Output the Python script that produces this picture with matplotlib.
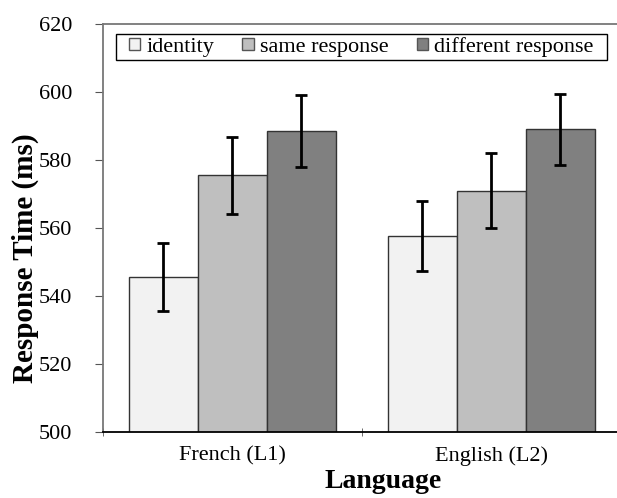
import numpy as np
import matplotlib.pyplot as plt
from matplotlib.patches import Rectangle

plt.rcParams["font.family"] = ["Liberation Serif", "DejaVu Serif"]

# Data
languages = ["French (L1)", "English (L2)"]
conditions = ["identity", "same response", "different response"]
means = {
    "identity": [545.5, 557.6],
    "same response": [575.5, 571.0],
    "different response": [588.6, 589.0],
}
errors = {
    "identity": [10.0, 10.2],
    "same response": [11.3, 11.1],
    "different response": [10.6, 10.4],
}
colors = ["#F2F2F2", "#BFBFBF", "#808080"]

W, H = 617, 498
fig = plt.figure(figsize=(W / 100, H / 100), dpi=100)
ax = fig.add_axes([102.7 / W, 66 / H, 518 / W, 408 / H])

x = np.arange(len(languages))
width = 0.8 / 3
for i, cond in enumerate(conditions):
    ax.bar(x + (i - 1) * width, means[cond], width, color=colors[i],
           edgecolor="#333333", linewidth=1.0, label=cond, zorder=2)
    ax.errorbar(x + (i - 1) * width, means[cond], yerr=errors[cond], fmt="none",
                ecolor="black", elinewidth=2, capsize=4, capthick=2, zorder=3)

ax.set_xlim(-0.5, 1.5)
ax.set_ylim(500, 620)
ax.set_yticks(np.arange(500, 621, 20))
ax.set_xticks(x)
ax.set_xticklabels(languages, fontsize=16)
ax.set_xticks([-0.5, 0.5, 1.5], minor=True)
ax.tick_params(axis="x", which="major", length=0, pad=10)
ax.tick_params(axis="x", which="minor", length=6, direction="inout", color="#555555")
ax.tick_params(axis="y", labelsize=16, length=6, color="#555555", direction="out", pad=16)

for side in ["left", "top"]:
    ax.spines[side].set_color("#777777")
    ax.spines[side].set_linewidth(1.3)
ax.spines["right"].set_visible(False)
ax.spines["bottom"].set_color("black")
ax.spines["bottom"].set_linewidth(1.3)

# legend without frame, box drawn separately
leg = fig.legend(*ax.get_legend_handles_labels(), loc="center left",
                 bbox_to_anchor=(129 / W, 1 - 47 / H), ncol=3,
                 fontsize=16, frameon=False,
                 handlelength=0.5, handleheight=0.5, handletextpad=0.3,
                 columnspacing=1.25, borderpad=0, borderaxespad=0)
for h in leg.legend_handles:
    h.set_edgecolor("#555555")
fig.add_artist(Rectangle((116 / W, 1 - 60 / H), (607 - 116) / W, 26 / H,
                         transform=fig.transFigure, facecolor="none",
                         edgecolor="black", linewidth=1.0, zorder=5))

fig.text(25 / W, 1 - 258 / H, "Response Time (ms)", rotation=90,
         ha="center", va="center", fontsize=21, fontweight="bold")
fig.text(383 / W, 1 - 481 / H, "Language", ha="center", va="center",
         fontsize=20, fontweight="bold")

fig.savefig("out.png", dpi=100)
